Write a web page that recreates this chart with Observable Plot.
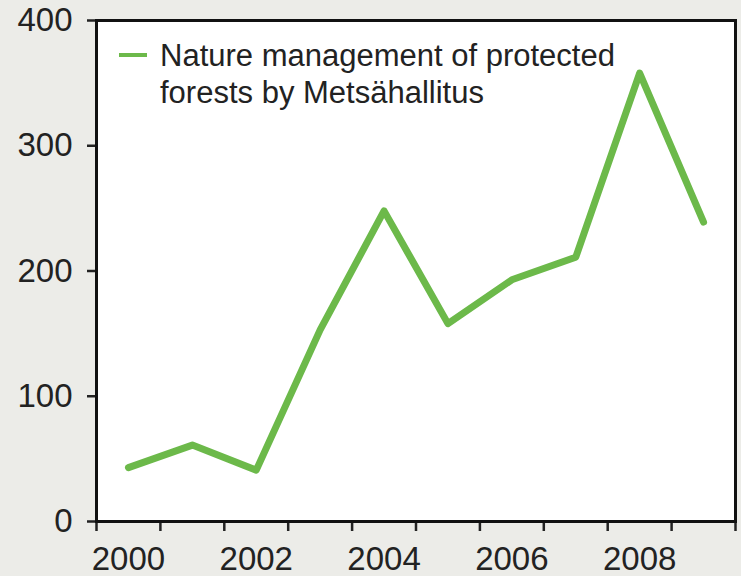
<!DOCTYPE html>
<html>
<head>
<meta charset="utf-8">
<script src="https://cdn.jsdelivr.net/npm/d3@7"></script>
<script src="https://cdn.jsdelivr.net/npm/@observablehq/plot@0.6"></script>
<style>
  html, body { margin: 0; padding: 0; background: #ecece8; }
  #wrap { position: relative; width: 741px; height: 576px; }
  #legend { position: absolute; left: 119px; top: 37px; font-family: "Liberation Sans", Arial, sans-serif; font-size: 31px; line-height: 37px; color: #222; }
  #legend .sw { position: absolute; left: 0; top: 16px; width: 28px; height: 4px; background: #6cb94a; }
  #legend .tx { position: absolute; left: 41px; top: 0; white-space: nowrap; }
</style>
</head>
<body>
<div id="wrap"></div>
<script>
const years = [2000, 2001, 2002, 2003, 2004, 2005, 2006, 2007, 2008, 2009];
const values = [43, 61, 41, 153, 248, 158, 193, 211, 358, 239];
const yTicks = [0, 100, 200, 300, 400];
const xLabelYears = [2000, 2002, 2004, 2006, 2008];
const legendLines = ["Nature management of protected", "forests by Metsähallitus"];
const lineColor = "#6cb94a";

const data = years.map((y, i) => ({year: y, value: values[i]}));
const boundaries = years.map(y => y - 0.5).concat([years[years.length - 1] + 0.5]);

const chart = Plot.plot({
  width: 741,
  height: 576,
  marginLeft: 96,
  marginRight: 6,
  marginTop: 20,
  marginBottom: 55,
  style: {background: "#ecece8", fontFamily: "'Liberation Sans', Arial, sans-serif", fontSize: "33px", color: "#222"},
  x: {type: "linear", domain: [boundaries[0], boundaries[boundaries.length - 1]]},
  y: {domain: [0, 400]},
  marks: [
    Plot.frame({fill: "white", stroke: null}),
    Plot.axisY({ticks: yTicks, tickSize: 9, tickPadding: 15, strokeWidth: 2.5, label: null, fill: "#222"}),
    Plot.axisX({ticks: boundaries, tickSize: 10, tickFormat: () => "", strokeWidth: 2.5, label: null}),
    Plot.axisX({ticks: xLabelYears, tickSize: 0, tickPadding: 25, tickFormat: d => String(d), label: null, fill: "#222"}),
    Plot.line(data, {x: "year", y: "value", stroke: lineColor, strokeWidth: 7}),
    Plot.frame({stroke: "#111", strokeWidth: 3})
  ]
});

const wrap = document.getElementById("wrap");
wrap.appendChild(chart);
const legend = document.createElement("div");
legend.id = "legend";
const sw = document.createElement("div");
sw.className = "sw";
const tx = document.createElement("div");
tx.className = "tx";
tx.innerHTML = legendLines.join("<br>");
legend.appendChild(sw);
legend.appendChild(tx);
wrap.appendChild(legend);
</script>
</body>
</html>
